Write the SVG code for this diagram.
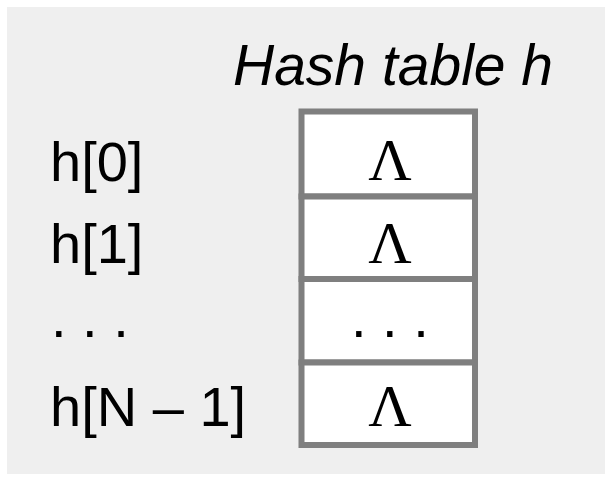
<svg xmlns="http://www.w3.org/2000/svg" width="605" height="481" viewBox="0 0 605 481">
  <style>
    .lbl { font-family: "Liberation Sans", Arial, sans-serif; font-size: 56px; fill: #000; }
    .ttl { font-family: "Liberation Sans", Arial, sans-serif; font-size: 57px; font-style: italic; fill: #000; }
    .sym { font-family: "Liberation Serif", "Times New Roman", serif; font-size: 60px; fill: #000; text-anchor: middle; }
    .cell { fill: #ffffff; stroke: #7f7f7f; stroke-width: 6; }
  </style>
  <!-- panel -->
  <rect x="0" y="0" width="605" height="481" fill="#ffffff"/>
  <rect x="7" y="7" width="598" height="467" fill="#efefef"/>

  <text class="ttl" x="233" y="85">Hash table h</text>

  <!-- index labels -->
  <g id="labels">
    <text class="lbl" x="50" y="181">h[0]</text>
    <text class="lbl" x="50" y="263">h[1]</text>
    <text class="lbl" x="51" y="337">. . .</text>
    <text class="lbl" x="50" y="426">h[N – 1]</text>
  </g>

  <!-- table slots -->
  <g id="slot0">
    <rect class="cell" x="301.5" y="111.5" width="173.5" height="85"/>
    <text class="sym" x="390" y="180">Λ</text>
  </g>
  <g id="slot1">
    <rect class="cell" x="301.5" y="196.5" width="173.5" height="82.5"/>
    <text class="sym" x="390" y="263">Λ</text>
  </g>
  <g id="slotDots">
    <rect class="cell" x="301.5" y="279" width="173.5" height="83.5"/>
    <text class="lbl" x="351" y="337">. . .</text>
  </g>
  <g id="slotLast">
    <rect class="cell" x="301.5" y="362.5" width="173.5" height="82.5"/>
    <text class="sym" x="390" y="426">Λ</text>
  </g>
</svg>
